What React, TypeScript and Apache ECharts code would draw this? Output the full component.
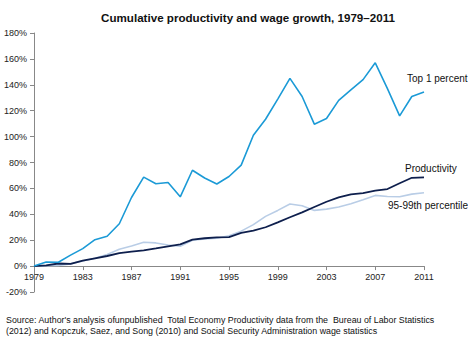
import React, { useEffect, useRef } from "react";
import * as echarts from "echarts";

const years = Array.from({ length: 33 }, (_, i) => String(1979 + i));

const top1 = [0, 3.2, 3, 8.5, 13.5, 20.4, 23, 32.7, 53, 68.7, 63.6, 64.5, 53.5, 74, 68, 63.4, 69.2, 78, 101, 113.4, 129, 145, 131, 109.6, 114, 128, 136, 144, 157, 137, 116, 131, 134.5];
const productivity = [0, 0.5, 2, 1.7, 4.2, 6, 7.8, 10, 11.2, 12.2, 13.7, 15.3, 16.8, 20.4, 21.5, 22.2, 22.4, 25.6, 27.4, 30, 33.8, 37.7, 41.5, 45.6, 49.7, 53, 55.4, 56.4, 58.2, 59.5, 64, 68.2, 68.5];
const pct9599 = [0, 0.3, 0.5, 1.7, 4, 6, 9, 13, 15.5, 18.4, 17.9, 16.3, 15.3, 20, 21, 21.5, 23.5, 27, 32, 38.4, 43, 48, 46.6, 43, 44, 45.6, 48.2, 51.3, 54.6, 53.8, 53.5, 55.6, 56.7];

const seriesNames = ["Top 1 percent", "Productivity", "95-99th percentile"];
const colors = ["#1b9ad6", "#0e1f4d", "#b9cde6"];

export default function App() {
  const ref = useRef<HTMLDivElement>(null);
  useEffect(() => {
    const chart = echarts.init(ref.current!, null, { renderer: "svg" });
    const font = "'Liberation Sans', Arial, sans-serif";
    const gridTop = 33;
    const gridBottom = 48;
    const plotH = 340 - gridTop - gridBottom;
    chart.setOption({
      animation: false,
      backgroundColor: "#fff",
      textStyle: { fontFamily: font },
      title: {
        text: "Cumulative productivity and wage growth, 1979\u20132011",
        left: 243,
        textAlign: "center",
        top: 6,
        textStyle: { fontSize: 11.6, fontWeight: "bold", color: "#111", fontFamily: font },
      },
      grid: { left: 34, right: 44, top: gridTop, bottom: gridBottom },
      xAxis: {
        type: "category",
        data: years,
        boundaryGap: false,
        offset: -(plotH * 20) / 200,
        axisLine: { onZero: false, lineStyle: { color: "#888", width: 1 } },
        axisTick: { interval: 3, length: 4, lineStyle: { color: "#888" } },
        axisLabel: { interval: 3, fontSize: 9, color: "#222", margin: 6, fontFamily: font },
      },
      yAxis: {
        type: "value",
        min: -20,
        max: 180,
        interval: 20,
        splitLine: { show: false },
        axisLine: { show: true, lineStyle: { color: "#888", width: 1 } },
        axisTick: { show: true, length: 4, lineStyle: { color: "#888" } },
        axisLabel: { formatter: "{value}%", fontSize: 9, color: "#222", margin: 7, fontFamily: font },
      },
      series: [
        { name: seriesNames[2], type: "line", data: pct9599, symbol: "none", lineStyle: { color: colors[2], width: 1.6 }, z: 2 },
        { name: seriesNames[1], type: "line", data: productivity, symbol: "none", lineStyle: { color: colors[1], width: 1.8 }, z: 3 },
        { name: seriesNames[0], type: "line", data: top1, symbol: "none", lineStyle: { color: colors[0], width: 1.6 }, z: 4 },
      ],
      graphic: [
        { type: "text", left: 407, top: 73, style: { text: "Top 1 percent", fontSize: 10, fill: "#111", fontFamily: font } },
        { type: "text", left: 405, top: 163, style: { text: "Productivity", fontSize: 10, fill: "#111", fontFamily: font } },
        { type: "text", left: 388, top: 200, style: { text: "95-99th percentile", fontSize: 10, fill: "#111", fontFamily: font } },
        {
          type: "text",
          left: 6,
          top: 314,
          style: {
            text:
              "Source: Author's analysis ofunpublished  Total Economy Productivity data from the  Bureau of Labor Statistics\n(2012) and Kopczuk, Saez, and Song (2010) and Social Security Administration wage statistics",
            fontSize: 8.85,
            lineHeight: 11,
            fill: "#111",
            fontFamily: font,
          },
        },
      ],
    });
    return () => chart.dispose();
  }, []);
  return <div ref={ref} style={{ width: 468, height: 340, position: "absolute", left: 0, top: 0 }} />;
}
